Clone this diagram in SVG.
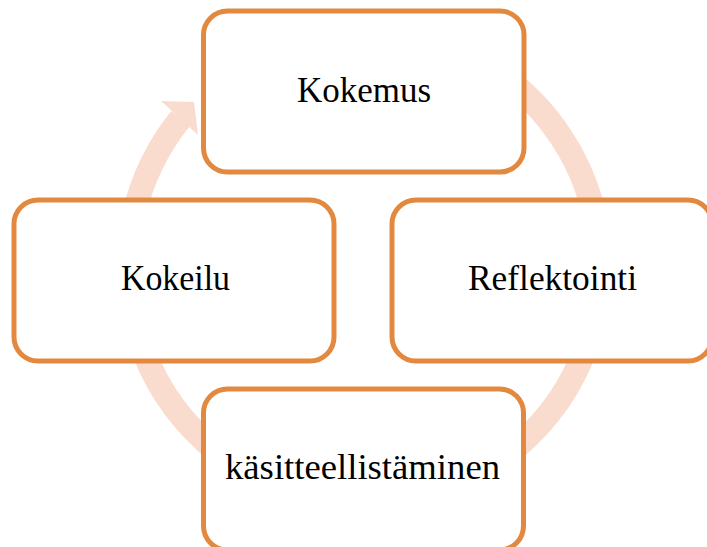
<svg xmlns="http://www.w3.org/2000/svg" width="707" height="547" viewBox="0 0 707 547">
<style>
.box{fill:#FFFFFF;stroke:#E2893F;stroke-width:5}
.lbl{font-family:"Liberation Serif","DejaVu Serif",serif;font-size:35px;fill:#000000;text-anchor:middle}
.ring{fill:none;stroke:#FADCCF;stroke-width:24}
.head{fill:#FADCCF}
</style>
<rect width="707" height="547" fill="#FFFFFF"/>
<g id="connectors">
<path class="ring" d="M246,62.6 A236,236 0 1 1 180.6,118.5"/>
<polygon class="head" points="161,101 194,102 198,135"/>
</g>
<g id="node-kokemus">
<rect class="box" x="203.5" y="11" width="320.5" height="161" rx="24"/>
<text class="lbl" x="364" y="102" textLength="134" lengthAdjust="spacingAndGlyphs">Kokemus</text>
</g>
<g id="node-reflektointi">
<rect class="box" x="392" y="200" width="320" height="161" rx="24"/>
<text class="lbl" x="552.5" y="290" textLength="169" lengthAdjust="spacingAndGlyphs">Reflektointi</text>
</g>
<g id="node-kasitteellistaminen">
<rect class="box" x="203.5" y="389" width="320" height="161" rx="24"/>
<text class="lbl" x="362.5" y="479" textLength="275" lengthAdjust="spacingAndGlyphs">käsitteellistäminen</text>
</g>
<g id="node-kokeilu">
<rect class="box" x="14" y="200" width="320" height="161" rx="24"/>
<text class="lbl" x="175.5" y="290" textLength="109" lengthAdjust="spacingAndGlyphs">Kokeilu</text>
</g>
</svg>
